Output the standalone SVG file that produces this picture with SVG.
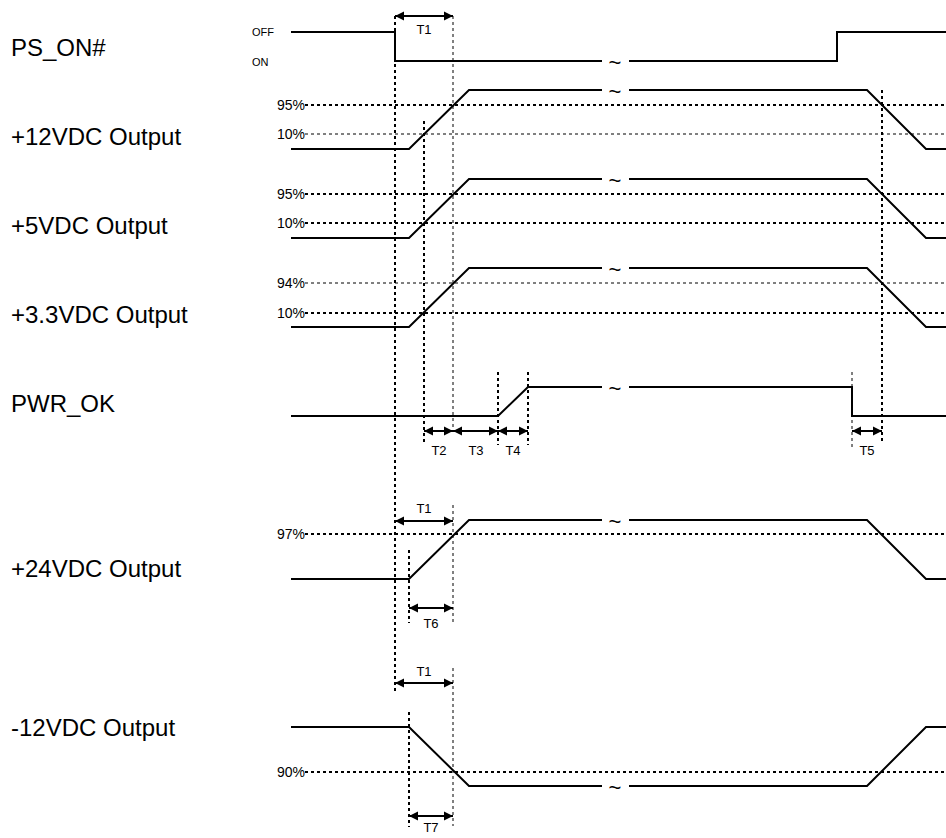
<svg xmlns="http://www.w3.org/2000/svg" width="946" height="838" viewBox="0 0 946 838">
<defs>
<marker id="ah" viewBox="0 0 10 10" refX="10" refY="5" markerWidth="9" markerHeight="10" markerUnits="userSpaceOnUse" orient="auto-start-reverse">
<path d="M0,0 L10,5 L0,10 Z" fill="#000"/>
</marker>
</defs>
<style>
.sig{fill:none;stroke:#000;stroke-width:2;stroke-linejoin:miter}
.lbl{font-family:"Liberation Sans",Arial,sans-serif;font-size:24px;fill:#000}
.sm{font-family:"Liberation Sans",Arial,sans-serif;font-size:11px;fill:#000}
.pc{font-family:"Liberation Sans",Arial,sans-serif;font-size:14px;fill:#000;text-anchor:end}
.tl{font-family:"Liberation Sans",Arial,sans-serif;font-size:13px;fill:#000;text-anchor:middle}
.til{font-family:"Liberation Sans",Arial,sans-serif;font-size:22px;fill:#000;text-anchor:middle}
.dk{fill:none;stroke:#000;stroke-width:2;stroke-dasharray:3 3}
.dt{fill:none;stroke:#000;stroke-width:1;stroke-dasharray:3 3}
.arr{fill:none;stroke:#000;stroke-width:2;marker-start:url(#ah);marker-end:url(#ah)}
</style>
<rect width="946" height="838" fill="#fff"/>

<g id="ps_on">
<text class="lbl" x="11" y="56">PS_ON#</text>
<text class="sm" x="252" y="36">OFF</text>
<text class="sm" x="252" y="66">ON</text>
<path class="sig" d="M291,32 H395 V61 H602 M629,61 H837 V32 H946"/>
<text class="til" x="615" y="70">~</text>
</g>

<g id="v12">
<text class="lbl" x="11" y="145">+12VDC Output</text>
<text class="pc" x="305" y="110">95%</text>
<text class="pc" x="305" y="139">10%</text>
<path class="dk" d="M305,105 H946"/>
<path class="dt" d="M305,134 H946"/>
<path class="sig" d="M291,149 H409 L469,90 H602 M629,90 H867 L926,149 H946"/>
<text class="til" x="615" y="99">~</text>
</g>

<g id="v5">
<text class="lbl" x="11" y="234">+5VDC Output</text>
<text class="pc" x="305" y="199">95%</text>
<text class="pc" x="305" y="228">10%</text>
<path class="dk" d="M305,194 H946"/>
<path class="dk" d="M305,223 H946"/>
<path class="sig" d="M291,238 H409 L469,179 H602 M629,179 H867 L926,238 H946"/>
<text class="til" x="615" y="188">~</text>
</g>

<g id="v33">
<text class="lbl" x="11" y="323">+3.3VDC Output</text>
<text class="pc" x="305" y="288">94%</text>
<text class="pc" x="305" y="318">10%</text>
<path class="dt" d="M305,283 H946"/>
<path class="dk" d="M305,313 H946"/>
<path class="sig" d="M291,327 H409 L469,268 H602 M629,268 H867 L926,327 H946"/>
<text class="til" x="615" y="277">~</text>
</g>

<g id="pwr_ok">
<text class="lbl" x="11" y="412">PWR_OK</text>
<path class="sig" d="M291,416 H498 L528,387 H602 M629,387 H852 V416 H946"/>
<text class="til" x="615" y="396">~</text>
</g>

<g id="v24">
<text class="lbl" x="11" y="577">+24VDC Output</text>
<text class="pc" x="305" y="539">97%</text>
<path class="dk" d="M305,534 H946"/>
<path class="sig" d="M291,579 H409 L469,520 H602 M629,520 H867 L926,579 H946"/>
<text class="til" x="615" y="529">~</text>
</g>

<g id="vm12">
<text class="lbl" x="11" y="736">-12VDC Output</text>
<text class="pc" x="305" y="777">90%</text>
<path class="dk" d="M305,772 H946"/>
<path class="sig" d="M291,727 H409 L469,786 H602 M629,786 H867 L926,727 H946"/>
<text class="til" x="615" y="795">~</text>
</g>

<g id="connectors">
<path class="dk" d="M395,16 V693"/>
<path class="dt" d="M453,16 V432"/>
<path class="dk" d="M424,121 V443"/>
<path class="dk" d="M498,372 V445"/>
<path class="dk" d="M528,372 V445"/>
<path class="dt" d="M852,372 V447"/>
<path class="dk" d="M882,90 V442"/>
<path class="dt" d="M453,505 V622"/>
<path class="dk" d="M409,550 V623"/>
<path class="dt" d="M453,668 V826"/>
<path class="dk" d="M409,712 V827"/>

<path class="arr" d="M395,16 H453"/>
<path class="arr" d="M424,431 H453"/>
<path class="arr" d="M453,431 H498"/>
<path class="arr" d="M498,431 H528"/>
<path class="arr" d="M852,431 H882"/>
<path class="arr" d="M395,521 H453"/>
<path class="arr" d="M409,608 H453"/>
<path class="arr" d="M395,683 H453"/>
<path class="arr" d="M409,816 H453"/>

<text class="tl" x="424" y="34">T1</text>
<text class="tl" x="439" y="455">T2</text>
<text class="tl" x="476" y="455">T3</text>
<text class="tl" x="513" y="455">T4</text>
<text class="tl" x="867" y="455">T5</text>
<text class="tl" x="424" y="513">T1</text>
<text class="tl" x="431" y="628">T6</text>
<text class="tl" x="424" y="676">T1</text>
<text class="tl" x="431" y="832">T7</text>
</g>
</svg>
